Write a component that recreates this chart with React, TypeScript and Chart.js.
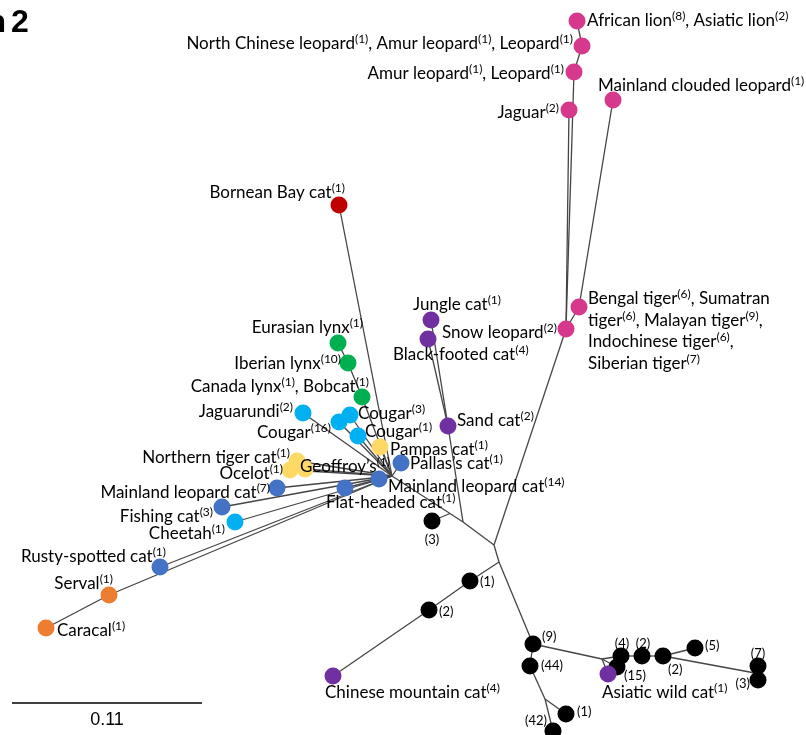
import React, { useEffect, useRef } from 'react';
import { Chart, registerables } from 'chart.js';
Chart.register(...registerables);

// ---------- DATA ----------
// Leaf nodes of the haplotype network (layout coordinates)
const leafIds = [
  'lion', 'ncleo', 'amur', 'jaguar', 'clouded', 'tiger', 'snow',
  'bornean', 'jungle', 'blackfoot', 'sand',
  'eurlynx', 'iberlynx', 'canlynx',
  'jaguarundi', 'cougar16', 'cougar3', 'cougar1',
  'pampas', 'pallas', 'ntiger', 'ocelot', 'geoffroy',
  'mlc14', 'flathead', 'mlc7', 'fishing', 'cheetah', 'rusty', 'serval', 'caracal',
  'b3', 'b1a', 'b2a', 'chinese', 'b9', 'b44', 'b1b', 'b42',
  'b4', 'b2b', 'b2c', 'b5', 'b15', 'asiatic', 'b7', 'b3b',
];
const leafX = [
  577, 582, 574, 569, 613, 579, 566,
  339, 431, 428, 448,
  338, 348, 362,
  303, 339, 350, 358,
  380, 401, 297, 290, 305,
  379, 345, 277, 222, 235, 160, 109, 46,
  432, 470, 429, 333, 533, 530, 566, 553,
  621, 642, 663, 695, 617, 608, 758, 758,
];
const leafY = [
  21, 46, 72, 110, 100, 307, 329,
  205, 320, 339, 426,
  343, 363, 397,
  413, 422, 415, 436,
  447, 463, 461, 470, 469,
  479, 488, 488, 507, 522, 567, 595, 628,
  521, 581, 610, 676, 644, 666, 714, 731,
  656, 656, 656, 648, 667, 674, 666, 680,
];
const leafGroup = [
  'pink', 'pink', 'pink', 'pink', 'pink', 'pink', 'pink',
  'red', 'purple', 'purple', 'purple',
  'green', 'green', 'green',
  'cyan', 'cyan', 'cyan', 'cyan',
  'yellow', 'blue', 'yellow', 'yellow', 'yellow',
  'blue', 'blue', 'blue', 'blue', 'cyan', 'blue', 'orange', 'orange',
  'black', 'black', 'black', 'purple', 'black', 'black', 'black', 'black',
  'black', 'black', 'black', 'black', 'black', 'purple', 'black', 'black',
];
const leafLabels = [
  'African lion{8}, Asiatic lion{2}',
  'North Chinese leopard{1}, Amur leopard{1}, Leopard{1}',
  'Amur leopard{1}, Leopard{1}',
  'Jaguar{2}',
  'Mainland clouded leopard{1}',
  'Bengal tiger{6}, Sumatran\ntiger{6}, Malayan tiger{9},\nIndochinese tiger{6},\nSiberian tiger{7}',
  'Snow leopard{2}',
  'Bornean Bay cat{1}',
  'Jungle cat{1}',
  'Black-footed cat{4}',
  'Sand cat{2}',
  'Eurasian lynx{1}',
  'Iberian lynx{10}',
  'Canada lynx{1}, Bobcat{1}',
  'Jaguarundi{2}',
  'Cougar{16}',
  'Cougar{3}',
  'Cougar{1}',
  'Pampas cat{1}',
  'Pallas\u2019s cat{1}',
  'Northern tiger cat{1}',
  'Ocelot{1}',
  'Geoffroy\u2019s{1}',
  'Mainland leopard cat{14}',
  'Flat-headed cat{1}',
  'Mainland leopard cat{7}',
  'Fishing cat{3}',
  'Cheetah{1}',
  'Rusty-spotted cat{1}',
  'Serval{1}',
  'Caracal{1}',
  '(3)', '(1)', '(2)',
  'Chinese mountain cat{4}',
  '(9)', '(44)', '(1)', '(42)',
  '(4)', '(2)', '(2)', '(5)', '(15)',
  'Asiatic wild cat{1}',
  '(7)', '(3)',
];

// Internal branch points (no marker)
const branchIds = ['hub', 'j1', 'j2', 'lh', 'j3', 'jb1', 'jr', 'jr3'];
const branchX = [494, 463, 450, 392, 499, 545, 602, 755];
const branchY = [545, 522, 513.5, 476, 562, 699, 659, 673];

// Network edges
const edgeFrom = [
  'hub', 'snow', 'tiger', 'snow', 'snow', 'amur', 'ncleo',
  'hub', 'j1', 'sand', 'sand', 'j1', 'j2', 'j2',
  'lh', 'lh', 'lh', 'lh', 'lh', 'lh', 'lh', 'lh', 'lh', 'canlynx', 'iberlynx',
  'lh', 'lh', 'lh', 'lh', 'lh', 'lh', 'lh', 'lh', 'lh', 'serval',
  'hub', 'j3', 'b1a', 'b2a', 'j3', 'b9', 'b44', 'jb1', 'jb1',
  'b9', 'jr', 'jr', 'jr', 'b4', 'b2b', 'b2c', 'b2c', 'jr3', 'jr3',
];
const edgeTo = [
  'snow', 'tiger', 'clouded', 'jaguar', 'amur', 'ncleo', 'lion',
  'j1', 'sand', 'jungle', 'blackfoot', 'j2', 'b3', 'lh',
  'bornean', 'mlc14', 'pallas', 'pampas', 'cougar1', 'cougar3', 'cougar16', 'jaguarundi', 'canlynx', 'iberlynx', 'eurlynx',
  'geoffroy', 'ocelot', 'ntiger', 'flathead', 'mlc7', 'fishing', 'cheetah', 'rusty', 'serval', 'caracal',
  'j3', 'b1a', 'b2a', 'chinese', 'b9', 'b44', 'jb1', 'b1b', 'b42',
  'jr', 'asiatic', 'b15', 'b4', 'b2b', 'b2c', 'b5', 'jr3', 'b7', 'b3b',
];

const scaleBarValue = '0.11';
const scaleBarStart = 12;
const scaleBarEnd = 202;
const scaleBarY = 703;

// ---------- STYLE ----------
const groupColors: Record<string, string> = {
  pink: '#D6398B',
  red: '#C00000',
  purple: '#7030A0',
  green: '#00B050',
  cyan: '#00B0F0',
  yellow: '#FFD966',
  blue: '#4472C4',
  orange: '#ED7D31',
  black: '#000000',
};
const groupOrder = ['black', 'purple', 'pink', 'red', 'green', 'cyan', 'yellow', 'blue', 'orange'];

// label offsets (px) from node, and alignment
const labelLayout: [number, number, string][] = [
  [10, -1, 'left'], [-9, -3, 'right'], [-10, 1, 'right'], [-10, 2, 'right'], [-15, -15, 'left'], [9, -9, 'left'], [-9, 3, 'right'],
  [6, -13, 'right'], [-18, -16, 'left'], [-35, 15, 'left'], [9, -6, 'left'],
  [25, -16, 'right'], [-7, 0, 'right'], [7, -11, 'right'],
  [-10, -2, 'right'], [-8, 10, 'right'], [8, -2, 'left'], [7, -5, 'left'],
  [10, 2, 'left'], [9, 0, 'left'], [-7, -4, 'right'], [-7, 3, 'right'], [-5, -3, 'left'],
  [9, 7, 'left'], [-19, 14, 'left'], [-7, 4, 'right'], [-9, 9, 'right'], [-10, 11, 'right'], [6, -11, 'right'], [4, -12, 'right'], [11, 2, 'left'],
  [0, 18, 'center'], [10, 0, 'left'], [10, 1, 'left'], [-8, 16, 'left'], [9, -8, 'left'], [11, -1, 'left'], [11, -3, 'left'], [-6, -11, 'right'],
  [1, -13, 'center'], [1, -13, 'center'], [5, 13, 'left'], [10, -3, 'left'], [7, 8, 'left'], [-6, 18, 'left'], [0, -13, 'center'], [-8, 3, 'right'],
];

const LABEL_FONT = 'Lato, "Liberation Sans", sans-serif';

function posOf(id: string): { x: number; y: number } {
  let i = leafIds.indexOf(id);
  if (i >= 0) return { x: leafX[i], y: leafY[i] };
  i = branchIds.indexOf(id);
  return { x: branchX[i], y: branchY[i] };
}

function drawRich(ctx: CanvasRenderingContext2D, text: string, x: number, y: number, align: string, count: boolean) {
  const mainFont = count ? `13px ${LABEL_FONT}` : `17px ${LABEL_FONT}`;
  const supFont = `12px ${LABEL_FONT}`;
  const parts = text.split(/\{(\d+)\}/);
  const segs = parts.map((p, k) => ({ s: k % 2 ? `(${p})` : p, sup: k % 2 === 1 })).filter((s) => s.s.length);
  let w = 0;
  segs.forEach((s) => {
    ctx.font = s.sup ? supFont : mainFont;
    w += ctx.measureText(s.s).width;
  });
  let cx = align === 'left' ? x : align === 'right' ? x - w : x - w / 2;
  const base = y + (count ? 4.5 : 6);
  ctx.textAlign = 'left';
  ctx.textBaseline = 'alphabetic';
  ctx.fillStyle = '#000';
  segs.forEach((s) => {
    ctx.font = s.sup ? supFont : mainFont;
    ctx.fillText(s.s, cx, s.sup ? base - 6 : base);
    cx += ctx.measureText(s.s).width;
  });
}

const labelPlugin = {
  id: 'networkLabels',
  afterDatasetsDraw(chart: any) {
    const ctx: CanvasRenderingContext2D = chart.ctx;
    const xs = chart.scales.x;
    const ys = chart.scales.y;
    ctx.save();
    leafIds.forEach((id, i) => {
      const px = xs.getPixelForValue(leafX[i]);
      const py = ys.getPixelForValue(leafY[i]);
      const [dx, dy, align] = labelLayout[i];
      const count = leafGroup[i] === 'black';
      leafLabels[i].split('\n').forEach((line, li) => {
        drawRich(ctx, line, px + dx, py + dy + li * 21.7, align, count);
      });
    });
    // scale bar
    const x0 = xs.getPixelForValue(scaleBarStart);
    const x1 = xs.getPixelForValue(scaleBarEnd);
    const yb = ys.getPixelForValue(scaleBarY);
    ctx.strokeStyle = '#000';
    ctx.lineWidth = 1.5;
    ctx.beginPath();
    ctx.moveTo(x0, yb);
    ctx.lineTo(x1, yb);
    ctx.stroke();
    ctx.font = '18px "Liberation Sans", Arial, sans-serif';
    ctx.textAlign = 'center';
    ctx.textBaseline = 'alphabetic';
    ctx.fillStyle = '#000';
    ctx.fillText(scaleBarValue, (x0 + x1) / 2, yb + 22);
    // panel label (cut off at left edge)
    ctx.font = 'bold 32px "Liberation Sans", Arial, sans-serif';
    ctx.textAlign = 'left';
    ctx.fillText('2', 11, 32);
    ctx.textAlign = 'right';
    ctx.fillText('n', 6, 32);
    ctx.restore();
  },
};

export default function App() {
  const ref = useRef<HTMLCanvasElement>(null);
  useEffect(() => {
    document.body.style.margin = '0';
    const edgeDatasets = edgeFrom.map((f, i) => ({
      type: 'scatter' as const,
      data: [posOf(f), posOf(edgeTo[i])],
      showLine: true,
      borderColor: '#454545',
      borderWidth: 1.3,
      pointRadius: 0,
      pointHoverRadius: 0,
      order: 100,
      clip: false as any,
    }));
    const nodeDatasets = groupOrder.map((g, gi) => {
      const idx = leafIds.map((_, i) => i).filter((i) => leafGroup[i] === g);
      return {
        type: 'scatter' as const,
        data: idx.map((i) => ({ x: leafX[i], y: leafY[i] })),
        backgroundColor: groupColors[g],
        pointBackgroundColor: groupColors[g],
        pointBorderWidth: 0,
        borderWidth: 0,
        pointRadius: 8.5,
        pointHoverRadius: 8.5,
        showLine: false,
        order: g === 'black' ? 50 : 10 - gi,
        clip: false as any,
      };
    });
    const chart = new Chart(ref.current!, {
      type: 'scatter',
      data: { datasets: [...nodeDatasets, ...edgeDatasets] as any },
      options: {
        responsive: false,
        animation: false,
        layout: { padding: 0, autoPadding: false },
        events: [],
        plugins: { legend: { display: false }, tooltip: { enabled: false } },
        scales: {
          x: { type: 'linear', min: 0, max: 806, display: false },
          y: { type: 'linear', min: 0, max: 735, reverse: true, display: false },
        },
      },
      plugins: [labelPlugin],
    });
    return () => chart.destroy();
  }, []);
  return (
    <div style={{ position: 'absolute', left: 0, top: 0, width: 806, height: 735, background: '#fff' }}>
      <canvas ref={ref} width={806} height={735} style={{ width: 806, height: 735, display: 'block' }} />
    </div>
  );
}
